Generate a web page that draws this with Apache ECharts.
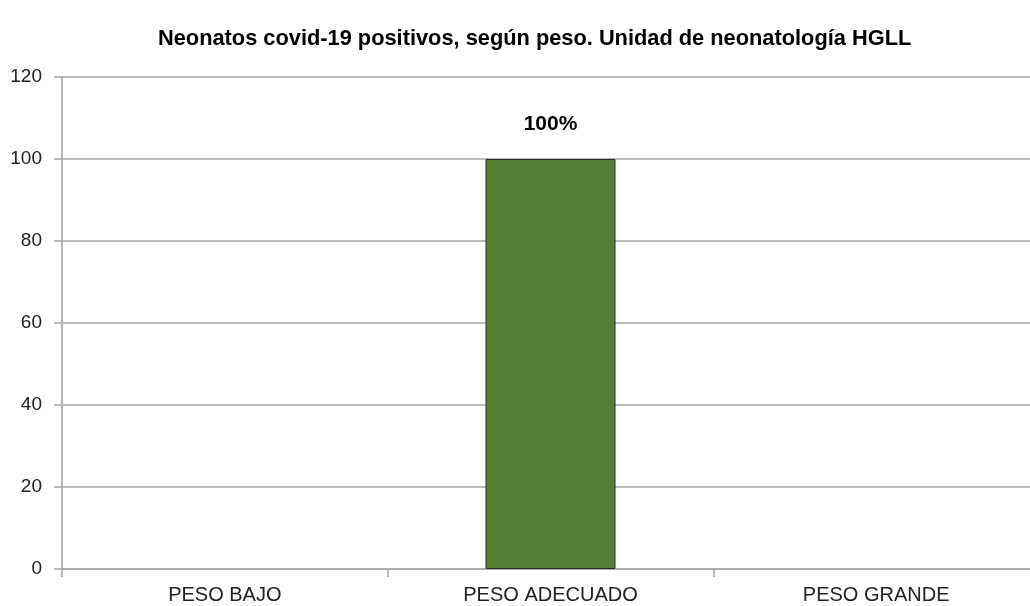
<!DOCTYPE html>
<html>
<head>
<meta charset="utf-8">
<script src="https://cdn.jsdelivr.net/npm/echarts@6/dist/echarts.min.js"></script>
<style>
  html, body { margin: 0; padding: 0; background: #fff; }
  #main { width: 1030px; height: 606px; }
</style>
</head>
<body>
<div id="main"></div>
<script>
// datos
var categorias = ['PESO BAJO', 'PESO ADECUADO', 'PESO GRANDE'];
var valores = [0, 100, 0];
var etiquetas = ['', '100%', ''];

var myChart = echarts.init(document.getElementById('main'));

// sin borde en las barras de valor cero
var datosBarra = valores.map(function (v) {
    return v === 0 ? { value: v, itemStyle: { borderWidth: 0 } } : v;
});

var option = {
    backgroundColor: '#ffffff',
    animation: false,
    title: {
        text: 'Neonatos covid-19 positivos, según peso. Unidad de neonatología HGLL',
        left: 153,
        top: 23,
        textStyle: {
            fontFamily: 'Liberation Sans',
            fontWeight: 'bold',
            fontSize: 21.8,
            color: '#000'
        }
    },
    grid: {
        left: 62,
        width: 977,
        top: 77,
        bottom: 37,
        outerBoundsMode: 'none',
        containLabel: false
    },
    xAxis: {
        type: 'category',
        data: categorias,
        axisLine: { lineStyle: { color: '#a6a6a6', width: 1.5 } },
        axisTick: { show: true, length: 8, lineStyle: { color: '#a6a6a6', width: 1.5 } },
        axisLabel: {
            color: '#222',
            fontFamily: 'Liberation Sans',
            fontSize: 20,
            margin: 16
        }
    },
    yAxis: {
        type: 'value',
        min: 0,
        max: 120,
        interval: 20,
        axisLine: { show: true, lineStyle: { color: '#a6a6a6', width: 1.5 } },
        axisTick: { show: true, length: 8, lineStyle: { color: '#a6a6a6', width: 1.5 } },
        splitLine: { lineStyle: { color: '#a6a6a6', width: 1.5 } },
        axisLabel: {
            color: '#222',
            fontFamily: 'Liberation Sans',
            fontSize: 19,
            margin: 20
        }
    },
    series: [{
        type: 'bar',
        data: datosBarra,
        barWidth: 130,
        itemStyle: {
            color: '#538135',
            borderColor: '#2b2b2b',
            borderWidth: 1
        },
        label: {
            show: true,
            position: 'top',
            distance: 24,
            formatter: function (p) { return etiquetas[p.dataIndex]; },
            fontFamily: 'Liberation Sans',
            fontWeight: 'bold',
            fontSize: 21,
            color: '#000'
        }
    }]
};

myChart.setOption(option);
</script>
</body>
</html>
